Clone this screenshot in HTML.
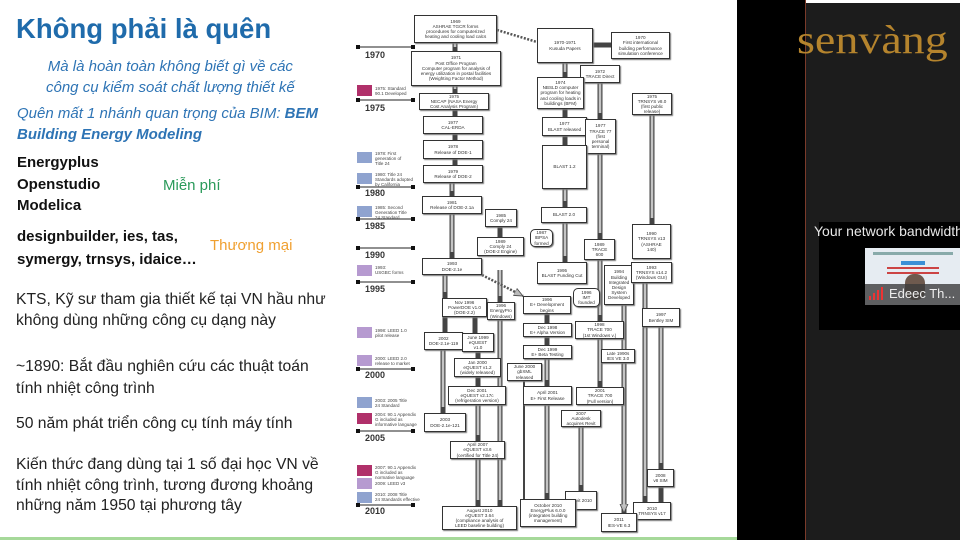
<!DOCTYPE html>
<html><head><meta charset="utf-8"><style>
*{margin:0;padding:0;box-sizing:border-box}
body{width:960px;height:540px;overflow:hidden;background:#fff;position:relative;font-family:"Liberation Sans","Noto Sans CJK SC",sans-serif}
.t{position:absolute;white-space:nowrap}
.b{position:absolute;background:#fff;border:1.3px solid #333;box-shadow:1px 1px 1px #777;font-size:4.6px;line-height:5.2px;text-align:center;color:#333;display:flex;align-items:center;justify-content:center;overflow:hidden}
.r{border-radius:5px}
.lg{position:absolute;left:357px;width:15px;height:11px}
.lt{position:absolute;left:375px;font-size:4.5px;line-height:5px;color:#444;white-space:nowrap}
.yr{position:absolute;left:365px;font-size:9px;font-weight:bold;color:#333}
</style></head><body>
<div style="position:absolute;left:0;top:0;width:738px;height:537px;background:#fff"></div>
<div style="position:absolute;left:0;top:537px;width:738px;height:3px;background:#a6d99a"></div>

<div class="t" style="left:16px;top:13px;font-size:27.5px;font-weight:bold;color:#1f6bab">Không phải là quên</div>
<div class="t" style="left:46px;top:56px;font-size:15px;font-style:italic;color:#2e74b5;text-align:center;line-height:21px">Mà là hoàn toàn không biết gì về các<br>công cụ kiểm soát chất lượng thiết kế</div>
<div class="t" style="left:17px;top:103px;font-size:15px;font-style:italic;color:#2e74b5;line-height:21px">Quên mất 1 nhánh quan trọng của BIM: <b>BEM</b><br><b>Building Energy Modeling</b></div>
<div class="t" style="left:17px;top:152px;font-size:15px;font-weight:bold;color:#111;line-height:21.5px">Energyplus<br>Openstudio<br>Modelica</div>
<div class="t" style="left:163px;top:177px;font-size:15px;color:#2a9a5a">Miễn phí</div>
<div class="t" style="left:17px;top:225px;font-size:15px;font-weight:bold;color:#111;line-height:23px">designbuilder, ies, tas,<br>symergy, trnsys, idaice…</div>
<div class="t" style="left:210px;top:237px;font-size:15px;color:#f0a030">Thương mại</div>
<div class="t" style="left:16px;top:289px;font-size:15.7px;color:#222;line-height:21px">KTS, Kỹ sư tham gia thiết kế tại VN hầu như<br>không dùng những công cụ dạng này</div>
<div class="t" style="left:16px;top:356px;font-size:15.7px;color:#222;line-height:22px">~1890: Bắt đầu nghiên cứu các thuật toán<br>tính nhiệt công trình</div>
<div class="t" style="left:16px;top:415px;font-size:15.7px;color:#222">50 năm phát triển công cụ tính máy tính</div>
<div class="t" style="left:16px;top:455px;font-size:15.7px;color:#222;line-height:20.5px">Kiến thức đang dùng tại 1 số đại học VN về<br>tính nhiệt công trình, tương đương khoảng<br>những năm 1950 tại phương tây</div>

<svg style="position:absolute;left:0;top:0" width="960" height="540">
<defs><marker id="a" markerUnits="userSpaceOnUse" markerWidth="10" markerHeight="9" refX="9" refY="4.5" orient="auto"><path d="M0,0.5 L9,4.5 L0,8.5z" fill="#bbb" stroke="#444" stroke-width="0.8"/></marker></defs>
<g stroke="#222" stroke-width="1">
<line x1="358" y1="47" x2="413" y2="47"/><line x1="358" y1="100" x2="413" y2="100"/><line x1="358" y1="187" x2="413" y2="187"/><line x1="358" y1="219" x2="413" y2="219"/><line x1="358" y1="248" x2="413" y2="248"/><line x1="358" y1="282" x2="413" y2="282"/><line x1="358" y1="369" x2="413" y2="369"/><line x1="358" y1="431" x2="413" y2="431"/><line x1="358" y1="505" x2="413" y2="505"/>
</g>
<g fill="#111">
<rect x="356" y="45" width="4" height="4"/><rect x="411" y="45" width="4" height="4"/><rect x="356" y="98" width="4" height="4"/><rect x="411" y="98" width="4" height="4"/><rect x="356" y="185" width="4" height="4"/><rect x="411" y="185" width="4" height="4"/><rect x="356" y="217" width="4" height="4"/><rect x="411" y="217" width="4" height="4"/><rect x="356" y="246" width="4" height="4"/><rect x="411" y="246" width="4" height="4"/><rect x="356" y="280" width="4" height="4"/><rect x="411" y="280" width="4" height="4"/><rect x="356" y="367" width="4" height="4"/><rect x="411" y="367" width="4" height="4"/><rect x="356" y="429" width="4" height="4"/><rect x="411" y="429" width="4" height="4"/><rect x="356" y="503" width="4" height="4"/><rect x="411" y="503" width="4" height="4"/>
</g>
<g fill="none" stroke="#444" stroke-width="5" marker-end="url(#a)">
<path d="M455 43V51M455 86V93M455 110V116M455 134V140M455 159V165M452 183V196M452 214V258M500 227V237M565 63V77M565 109V117M565 136V145M565 189V207M565 223V262M593 45H611M600 83V119M600 154V239M600 260V321M600 339V387M652 115V224M645 283V502M661 327V469M661 487V502M445 275V298M445 317V332M475 317V333M443 350V413M478 352V358M478 377V386M478 405V441M478 459V506M500 270V302M500 320V506M547 314V323M547 337V345M547 359V386M547 405V499M581 427V491M624 303V513"/>
</g>
<g fill="none" stroke="#c4c4c4" stroke-width="2.6">
<path d="M455 43V47M455 86V89M452 183V191M452 214V252M565 63V72M565 189V201M565 223V256M600 83V113M600 154V233M600 260V315M600 339V381M652 115V218M645 283V496M661 327V463M445 275V292M443 350V407M478 405V435M478 459V500M500 270V296M500 320V500M547 359V380M547 405V493M581 427V485M624 303V507"/>
</g>
<g stroke="#555" stroke-width="2.5" stroke-dasharray="2 1.5" fill="none" marker-end="url(#a)">
<path d="M497 30L537 42M482 275L523 296"/>
</g>
<line x1="524" y1="381" x2="524" y2="499" stroke="#444" stroke-width="2"/>
</svg>

<div class="yr" style="top:50px">1970</div><div class="yr" style="top:103px">1975</div><div class="yr" style="top:188px">1980</div><div class="yr" style="top:221px">1985</div><div class="yr" style="top:250px">1990</div><div class="yr" style="top:284px">1995</div><div class="yr" style="top:370px">2000</div><div class="yr" style="top:433px">2005</div><div class="yr" style="top:506px">2010</div>

<div class="lg" style="top:85px;background:#b0306a"></div><div class="lt" style="top:86px">1975: Standard<br>90.1 Developed</div>
<div class="lg" style="top:152px;background:#8fa3cf"></div><div class="lt" style="top:151px">1978: First<br>generation of<br>Title 24</div>
<div class="lg" style="top:173px;background:#8fa3cf"></div><div class="lt" style="top:172px">1980: Title 24<br>Standards adopted<br>by California</div>
<div class="lg" style="top:206px;background:#8fa3cf"></div><div class="lt" style="top:205px">1985: Second<br>Generation Title<br>24 Standard</div>
<div class="lg" style="top:265px;background:#b69ad0"></div><div class="lt" style="top:265px">1993:<br>USGBC forms</div>
<div class="lg" style="top:327px;background:#b69ad0"></div><div class="lt" style="top:328px">1998: LEED 1.0<br>pilot release</div>
<div class="lg" style="top:355px;background:#b69ad0"></div><div class="lt" style="top:356px">2000: LEED 2.0<br>release to market</div>
<div class="lg" style="top:397px;background:#8fa3cf"></div><div class="lt" style="top:398px">2003: 2005 Title<br>24 Standard</div>
<div class="lg" style="top:413px;background:#b0306a"></div><div class="lt" style="top:412px">2004: 90.1 Appendix<br>G included as<br>informative language</div>
<div class="lg" style="top:465px;background:#b0306a"></div><div class="lt" style="top:465px">2007: 90.1 Appendix<br>G included as<br>normative language</div>
<div class="lg" style="top:478px;background:#b69ad0"></div><div class="lt" style="top:481px">2009: LEED v3</div>
<div class="lg" style="top:492px;background:#8fa3cf"></div><div class="lt" style="top:492px">2010: 2008 Title<br>24 Standards effective</div>

<div class="b" style="left:414px;top:15px;width:83px;height:28px">1969<br>ASHRAE TGCR forms<br>procedures for computerized<br>heating and cooling load calcs</div>
<div class="b" style="left:411px;top:51px;width:90px;height:35px">1971<br>Post Office Program<br>Computer program for analysis of<br>energy utilization in postal facilities<br>(Weighting Factor Method)</div>
<div class="b" style="left:419px;top:93px;width:70px;height:17px">1975<br>NECAP (NASA Energy<br>Cost Analysis Program)</div>
<div class="b" style="left:423px;top:116px;width:60px;height:18px">1977<br>CAL-ERDA</div>
<div class="b" style="left:423px;top:140px;width:60px;height:19px">1978<br>Release of DOE-1</div>
<div class="b" style="left:423px;top:165px;width:60px;height:18px">1979<br>Release of DOE-2</div>
<div class="b" style="left:422px;top:196px;width:60px;height:18px">1981<br>Release of DOE-2.1a</div>
<div class="b" style="left:485px;top:209px;width:32px;height:18px">1985<br>Comply 24</div>
<div class="b" style="left:477px;top:237px;width:47px;height:19px">1989<br>Comply 24<br>(DOE-2 Engine)</div>
<div class="b r" style="left:530px;top:229px;width:23px;height:18px">1987<br>IBPSA<br>formed</div>
<div class="b" style="left:537px;top:28px;width:56px;height:35px">1970-1971<br>Kusuda Papers</div>
<div class="b" style="left:611px;top:32px;width:59px;height:27px">1970<br>First international<br>building performance<br>simulation conference</div>
<div class="b" style="left:580px;top:65px;width:40px;height:18px">1972<br>TRACE Direct</div>
<div class="b" style="left:537px;top:77px;width:47px;height:32px">1974<br>NBSLD computer<br>program for heating<br>and cooling loads in<br>buildings (BFM)</div>
<div class="b" style="left:542px;top:117px;width:45px;height:19px">1977<br>BLAST released</div>
<div class="b" style="left:585px;top:119px;width:31px;height:35px">1977<br>TRACE 77<br>(first<br>personal<br>terminal)</div>
<div class="b" style="left:542px;top:145px;width:45px;height:44px">BLAST 1.2</div>
<div class="b" style="left:541px;top:207px;width:46px;height:16px">BLAST 2.0</div>
<div class="b" style="left:632px;top:93px;width:40px;height:22px">1975<br>TRNSYS v8.0<br>(first public<br>release)</div>
<div class="b" style="left:584px;top:239px;width:31px;height:21px">1989<br>TRACE<br>600</div>
<div class="b" style="left:632px;top:224px;width:39px;height:35px">1990<br>TRNSYS v13<br>(ASHRAE<br>140)</div>
<div class="b" style="left:422px;top:258px;width:60px;height:17px">1993<br>DOE-2.1e</div>
<div class="b" style="left:537px;top:262px;width:50px;height:22px">1995<br>BLAST Funding Cut</div>
<div class="b" style="left:604px;top:265px;width:30px;height:40px">1994<br>Building<br>Integrated<br>Design<br>System<br>Developed</div>
<div class="b" style="left:631px;top:262px;width:41px;height:21px">1993<br>TRNSYS v14.2<br>(Windows GUI)</div>
<div class="b" style="left:442px;top:298px;width:45px;height:19px">Nov 1996<br>PowerDOE v1.0<br>(DOE-2.2)</div>
<div class="b" style="left:487px;top:302px;width:28px;height:18px">1996<br>EnergyPro<br>(Windows)</div>
<div class="b" style="left:523px;top:296px;width:48px;height:18px">1996<br>E+ Development<br>begins</div>
<div class="b r" style="left:573px;top:288px;width:27px;height:19px">1996<br>IMT<br>founded</div>
<div class="b" style="left:642px;top:308px;width:38px;height:19px">1997<br>Bentley SIM</div>
<div class="b" style="left:575px;top:321px;width:49px;height:18px">1998<br>TRACE 700<br>(1st Windows v.)</div>
<div class="b" style="left:523px;top:323px;width:49px;height:14px">Dec 1998<br>E+ Alpha Version</div>
<div class="b" style="left:424px;top:332px;width:39px;height:18px">2002<br>DOE-2.1e-119</div>
<div class="b" style="left:462px;top:333px;width:32px;height:19px">June 1999<br>eQUEST<br>v1.0</div>
<div class="b" style="left:523px;top:345px;width:49px;height:14px">Dec 1999<br>E+ Beta Testing</div>
<div class="b" style="left:601px;top:349px;width:34px;height:14px">Late 1990s<br>IES VE 3.0</div>
<div class="b" style="left:454px;top:358px;width:47px;height:19px">Jan 2000<br>eQUEST v1.2<br>(widely released)</div>
<div class="b" style="left:507px;top:363px;width:35px;height:18px">June 2000<br>gbXML<br>released</div>
<div class="b" style="left:448px;top:386px;width:58px;height:19px">Dec 2001<br>eQUEST v2.17c<br>(refrigeration version)</div>
<div class="b" style="left:523px;top:386px;width:49px;height:19px">April 2001<br>E+ First Release</div>
<div class="b" style="left:576px;top:387px;width:48px;height:18px">2001<br>TRACE 700<br>(Full version)</div>
<div class="b" style="left:424px;top:413px;width:42px;height:19px">2003<br>DOE-2.1e-121</div>
<div class="b" style="left:561px;top:410px;width:40px;height:17px">2007<br>Autodesk<br>acquires Revit</div>
<div class="b" style="left:450px;top:441px;width:55px;height:18px">April 2007<br>eQUEST v3.6<br>(certified for Title 24)</div>
<div class="b" style="left:647px;top:469px;width:27px;height:18px">2008<br>v8 SIM</div>
<div class="b" style="left:565px;top:491px;width:32px;height:19px">Revit 2010</div>
<div class="b" style="left:520px;top:499px;width:56px;height:28px">October 2010<br>EnergyPlus 6.0.0<br>(integrates building<br>management)</div>
<div class="b" style="left:442px;top:506px;width:75px;height:24px">August 2010<br>eQUEST 3.64<br>(compliance analysis of<br>LEED baseline building)</div>
<div class="b" style="left:633px;top:502px;width:38px;height:18px">2010<br>TRNSYS v17</div>
<div class="b" style="left:601px;top:513px;width:36px;height:19px">2011<br>IES-VE 6.3</div>

<div style="position:absolute;left:737px;top:0;width:68px;height:540px;background:#000"></div>
<div style="position:absolute;left:805px;top:0;width:1px;height:540px;background:#7a3a2a"></div>
<div style="position:absolute;left:806px;top:3px;width:154px;height:537px;background:#1c1c1c"></div>
<div class="t" style="left:797px;top:16px;font-family:'Liberation Serif',serif;font-size:40px;color:#b5842d;transform:scaleX(1.15);transform-origin:left top">senvàng</div>
<div style="position:absolute;left:819px;top:222px;width:141px;height:108px;background:#000"></div>
<div class="t" style="left:814px;top:223px;font-size:14px;color:#e8e8e8">Your network bandwidth</div>
<div style="position:absolute;left:865px;top:248px;width:95px;height:57px;background:#e6ecf2;overflow:hidden">
<div style="position:absolute;left:8px;top:4px;width:80px;height:3px;background:#8aa"></div>
<div style="position:absolute;left:36px;top:13px;width:24px;height:4px;background:#3b8fd6"></div>
<div style="position:absolute;left:22px;top:19px;width:52px;height:2px;background:#c44"></div>
<div style="position:absolute;left:22px;top:24px;width:52px;height:2px;background:#c44"></div>
<div style="position:absolute;left:40px;top:26px;width:20px;height:26px;border-radius:9px;background:#6e5a4e"></div>
<div style="position:absolute;left:0;top:36px;width:95px;height:21px;background:rgba(60,60,60,0.8)"></div>
<div style="position:absolute;left:4px;top:48px;width:2px;height:4px;background:#e33"></div>
<div style="position:absolute;left:8px;top:45px;width:2px;height:7px;background:#e33"></div>
<div style="position:absolute;left:12px;top:42px;width:2px;height:10px;background:#e33"></div>
<div style="position:absolute;left:16px;top:39px;width:2px;height:13px;background:#e33"></div>
<div class="t" style="left:24px;top:38px;font-size:13px;color:#eee">Edeec Th...</div>
</div>
</body></html>
